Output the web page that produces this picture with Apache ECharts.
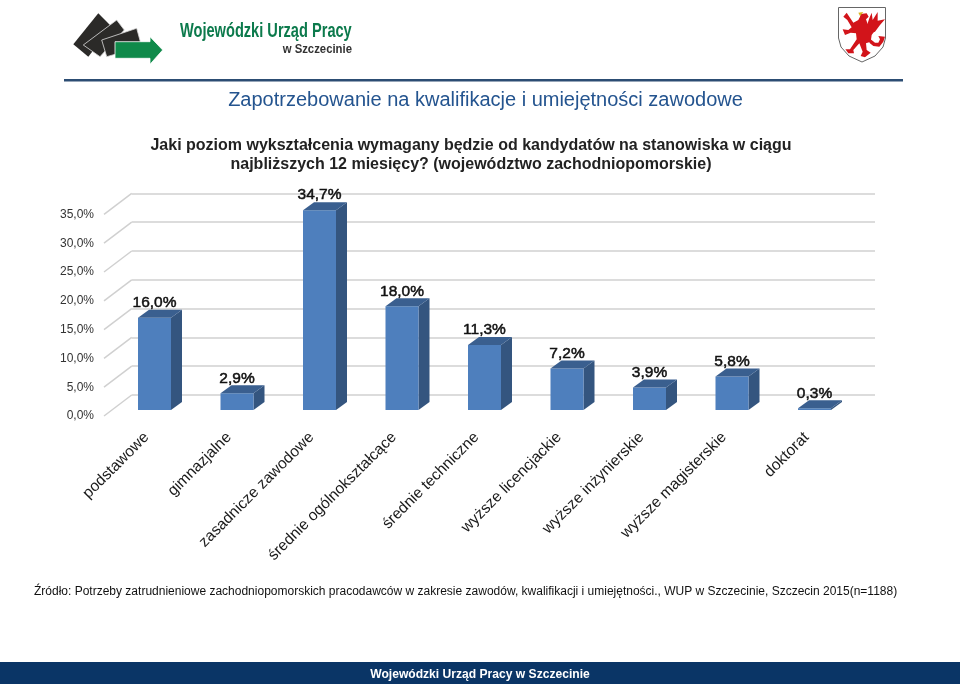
<!DOCTYPE html>
<html><head><meta charset="utf-8">
<style>html,body{margin:0;padding:0;background:#fff}#c{width:960px;height:684px}</style>
<script src="https://cdn.jsdelivr.net/npm/echarts@6/dist/echarts.min.js"></script>
</head><body><div id="c"></div>
<script>
const categories = ['podstawowe','gimnazjalne','zasadnicze zawodowe','średnie ogólnokształcące','średnie techniczne','wyższe licencjackie','wyższe inżynierskie','wyższe magisterskie','doktorat'];
const values = [16.0,2.9,34.7,18.0,11.3,7.2,3.9,5.8,0.3];
const valueLabels = ['16,0%','2,9%','34,7%','18,0%','11,3%','7,2%','3,9%','5,8%','0,3%'];
const wallLevels = [0,5,10,15,20,25,30,35];
const titleText = 'Zapotrzebowanie na kwalifikacje i umiejętności zawodowe';
const subtitleLine1 = 'Jaki poziom wykształcenia wymagany będzie od kandydatów na stanowiska w ciągu';
const subtitleLine2 = 'najbliższych 12 miesięcy? (województwo zachodniopomorskie)';
const sourceText = 'Źródło: Potrzeby zatrudnieniowe zachodniopomorskich pracodawców w zakresie zawodów, kwalifikacji i umiejętności., WUP w Szczecinie, Szczecin 2015(n=1188)';
const footerText = 'Wojewódzki Urząd Pracy w Szczecinie';

const F = '"Liberation Sans", Arial, sans-serif';
const chart = echarts.init(document.getElementById('c'), null, {renderer:'canvas'});
const yCommon = {type:'value', min:0, max:35, interval:5};
const crest = pts => pts.map(p=>[830+p[0]/3, p[1]/3]);
const griffinBody = crest([[92,42],[110,40],[116,50],[108,58],[113,72],[135,72],[140,85],[125,105],[122,125],[108,130],[110,150],[122,158],[105,172],[92,168],[98,155],[88,130],[70,150],[72,160],[55,160],[46,148],[60,148],[80,118],[78,100],[62,98],[45,105],[38,88],[55,90],[65,82],[52,60],[40,50],[50,38],[58,50],[70,68],[85,60],[90,50]]);
const griffinWing = crest([[108,85],[118,55],[125,38],[128,60],[143,36],[143,62],[165,58],[150,75],[135,95],[120,100]]);
const griffinTail = crest([[122,118],[135,128],[145,128],[150,118],[145,108],[165,110],[160,125],[148,140],[130,138],[118,128]]);
const griffinBeak = crest([[85,38],[100,36],[95,42],[90,48]]);
const red = {fill:'#d2141a'};

chart.setOption({
  animation:false,
  backgroundColor:'#fff',
  textStyle:{fontFamily:F},
  grid:[
    {left:104,  top:214.4, width:771, height:201.6},  // front plane: value labels
    {left:131.7,top:193.4, width:743.3, height:201.6}, // back wall
    {left:113.25,top:208.4, width:742.5, height:201.6}, // bars plane
    {left:105.25,top:208.4, width:742.5, height:201.6}  // category labels
  ],
  xAxis:[
    {gridIndex:0,type:'category',data:categories,show:false},
    {gridIndex:1,type:'category',data:categories,show:false},
    {gridIndex:2,type:'category',data:categories,show:false},
    {gridIndex:3,type:'category',data:categories,
      axisLine:{show:false},axisTick:{show:false},
      axisLabel:{interval:0,rotate:45,margin:25,color:'#1a1a1a',fontSize:15.5,fontFamily:F}}
  ],
  yAxis:[
    Object.assign({gridIndex:0,axisLine:{show:false},axisTick:{show:false},splitLine:{show:false},
      axisLabel:{margin:10,color:'#333',fontSize:12,fontFamily:F,formatter:v=>v.toFixed(1).replace('.',',')+'%'}},yCommon),
    Object.assign({gridIndex:1,axisLine:{show:false},axisTick:{show:false},axisLabel:{show:false},
      splitLine:{show:true,lineStyle:{color:'#d0d0d0',width:1.5}}},yCommon),
    Object.assign({gridIndex:2,show:false},yCommon),
    Object.assign({gridIndex:3,show:false},yCommon)
  ],
  series:[
    {type:'custom',xAxisIndex:1,yAxisIndex:1,silent:true,z:1,clip:false,
      data:wallLevels.map(v=>[0,v]),
      renderItem(p,api){
        const s=api.coord([0,api.value(1)]);
        const back=[131.7,s[1]];
        return {type:'line',shape:{x1:back[0],y1:back[1],x2:back[0]-27.7,y2:back[1]+21},
          style:{stroke:'#d0d0d0',lineWidth:1.5}};
      }},
    {type:'custom',xAxisIndex:2,yAxisIndex:2,silent:true,z:3,clip:false,
      data:values.map((v,i)=>[i,v]),
      encode:{x:0,y:1},
      renderItem(p,api){
        const i=api.value(0), v=api.value(1);
        const top=api.coord([i,v]), base=api.coord([i,0]);
        const w=33, dx=11, dy=8;
        const l=top[0]-w/2, r=top[0]+w/2;
        return {type:'group',children:[
          {type:'polygon',z2:2,shape:{points:[[r,top[1]],[r+dx,top[1]-dy],[r+dx,base[1]-dy],[r,base[1]]]},style:{fill:'#34557f'}},
          {type:'rect',z2:3,shape:{x:l,y:top[1],width:w,height:base[1]-top[1]},style:{fill:'#4e7fbd'}},
          {type:'polygon',z2:4,shape:{points:[[l,top[1]],[l+dx,top[1]-dy],[r+dx,top[1]-dy],[r,top[1]]]},style:{fill:'#3a5f8f'}},
          {type:'text',z2:5,style:{x:top[0],y:top[1]-15,text:valueLabels[i],align:'center',verticalAlign:'middle',
            fill:'#111',font:'15.5px '+F,stroke:'#111',lineWidth:0.5}}
        ]};
      }}
  ],
  graphic:[
    {type:'rect',shape:{x:64,y:79,width:839,height:2.5},style:{fill:'#2c4d73'},silent:true},
    {type:'rect',shape:{x:0,y:662,width:960,height:22},style:{fill:'#0a3566'},silent:true},
    {type:'text',style:{x:480,y:675,text:footerText,align:'center',verticalAlign:'middle',fill:'#fff',font:'bold 12.1px '+F},silent:true},
    {type:'text',style:{x:485.5,y:100,text:titleText,align:'center',verticalAlign:'middle',fill:'#24548f',font:'20px '+F},silent:true},
    {type:'text',style:{x:471,y:146,text:subtitleLine1,align:'center',verticalAlign:'middle',fill:'#222',font:'bold 16px '+F},silent:true},
    {type:'text',style:{x:471,y:165,text:subtitleLine2,align:'center',verticalAlign:'middle',fill:'#222',font:'bold 16px '+F},silent:true},
    {type:'text',style:{x:34,y:592,text:sourceText,align:'left',verticalAlign:'middle',fill:'#111',font:'12px '+F},silent:true},
    // logo
    {type:'polygon',shape:{points:[[98.3,13.3],[111.7,26.7],[88.3,56.7],[73.3,44.3]]},style:{fill:'#2b2a28'},silent:true},
    {type:'polygon',shape:{points:[[116.7,20],[124.3,30],[100,56.7],[83.3,45]]},style:{fill:'#2b2a28',stroke:'#ddd',lineWidth:0.8},silent:true},
    {type:'polygon',shape:{points:[[136.7,28.3],[141.7,46.7],[106.7,56.7],[101.7,40]]},style:{fill:'#2b2a28',stroke:'#ddd',lineWidth:0.8},silent:true},
    {type:'polygon',shape:{points:[[115,41.7],[150,41.7],[150,36.7],[162.7,50],[150,64.3],[150,58.3],[115,58.3]]},style:{fill:'#0f8a4a',stroke:'#fff',lineWidth:0.8},silent:true},
    {type:'text',x:180,y:31,scaleX:0.73,style:{x:0,y:0,text:'Wojewódzki Urząd Pracy',align:'left',verticalAlign:'middle',fill:'#0c7a4c',font:'bold 20px '+F},silent:true},
    {type:'text',x:352,y:49.5,scaleX:0.84,style:{x:0,y:0,text:'w Szczecinie',align:'right',verticalAlign:'middle',fill:'#333',font:'bold 13.5px '+F},silent:true},
    // coat of arms
    {type:'polygon',shape:{points:griffinWing},style:red,silent:true},
    {type:'polygon',shape:{points:griffinTail},style:red,silent:true},
    {type:'polygon',shape:{points:griffinBody},style:red,silent:true},
    {type:'polygon',shape:{points:griffinBeak},style:{fill:'#d9b31e'},silent:true},
    {type:'polyline',shape:{points:[[838.5,7.5],[885.5,7.5],[885.5,38],[883,47],[875,56],[862,62],[849,56],[841,47],[838.5,38],[838.5,7.5]]},style:{fill:'none',stroke:'#666',lineWidth:1},silent:true}
  ]
});
</script></body></html>
